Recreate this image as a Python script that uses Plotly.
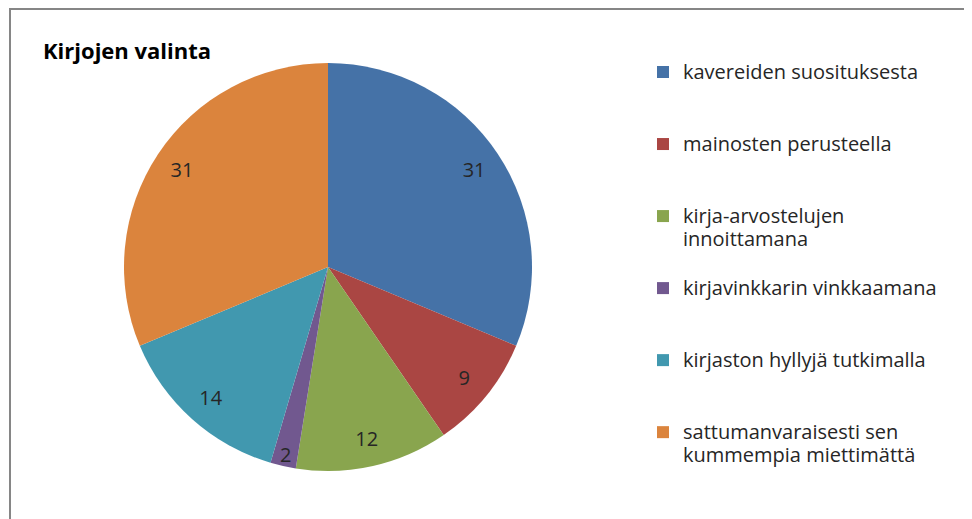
import plotly.graph_objects as go

title_text = "Kirjojen valinta"
categories = [
    "kavereiden suosituksesta",
    "mainosten perusteella",
    "kirja-arvostelujen innoittamana",
    "kirjavinkkarin vinkkaamana",
    "kirjaston hyllyjä tutkimalla",
    "sattumanvaraisesti sen kummempia miettimättä",
]
values = [31, 9, 12, 2, 14, 31]
colors = ["#4572A7", "#AA4643", "#89A54E", "#71588F", "#4198AF", "#DB843D"]

W, H = 964, 511          # page body has an 8px margin
FONT = "Open Sans"
TEXT_COLOR = "#262626"

# legend display text: wrap the two long labels, pad all entries to 3 lines
wrap = {
    "kirja-arvostelujen innoittamana": "kirja-arvostelujen<br>innoittamana",
    "sattumanvaraisesti sen kummempia miettimättä": "sattumanvaraisesti sen<br>kummempia miettimättä",
}
legend_labels = []
for c in categories:
    t = wrap.get(c, c)
    n = t.count("<br>") + 1
    lines = t.split("<br>") + [" "] * (3 - n)
    legend_labels.append("<br>".join('<span style="font-size:20px">%s</span>' % ln for ln in lines))

# pie geometry in pixels
cx, cy, r = 320, 259, 204
dom = dict(x=[(cx - r) / W, (cx + r) / W], y=[1 - (cy + r) / H, 1 - (cy - r) / H])

fig = go.Figure()
fig.add_trace(
    go.Pie(
        labels=legend_labels,
        values=values,
        sort=False,
        direction="clockwise",
        rotation=0,
        marker=dict(colors=colors, line=dict(width=0)),
        textinfo="none",
        domain=dom,
        hoverinfo="skip",
    )
)
# transparent ring carrying the value labels near the rim
fig.add_trace(
    go.Pie(
        labels=categories,
        values=values,
        sort=False,
        direction="clockwise",
        rotation=0,
        hole=0.72,
        marker=dict(colors=["rgba(0,0,0,0)"] * len(values), line=dict(width=0)),
        textinfo="value",
        textposition="inside",
        insidetextorientation="horizontal",
        textfont=dict(family=FONT, size=20, color=TEXT_COLOR),
        domain=dom,
        showlegend=False,
        hoverinfo="label+value",
    )
)

fig.update_layout(
    width=W,
    height=H,
    margin=dict(l=0, r=0, t=0, b=0),
    paper_bgcolor="white",
    font=dict(family=FONT, color=TEXT_COLOR),
    uniformtext=dict(minsize=20, mode="show"),
    legend=dict(
        x=635 / W,
        y=1 - 46 / H,
        xanchor="left",
        yanchor="top",
        valign="top",
        font=dict(family=FONT, size=17.7, color=TEXT_COLOR),
        itemwidth=30,
        bgcolor="rgba(0,0,0,0)",
    ),
    annotations=[
        dict(
            text="<b>" + title_text + "</b>",
            x=33 / W,
            y=1 - 42 / H,
            xref="paper",
            yref="paper",
            xanchor="left",
            yanchor="middle",
            showarrow=False,
            font=dict(family=FONT, size=22, color="#000000"),
        )
    ],
    shapes=[
        dict(type="line", xref="paper", yref="paper", x0=2 / W, x1=1, y0=1 - 1 / H, y1=1 - 1 / H,
             line=dict(color="#868686", width=2)),
        dict(type="line", xref="paper", yref="paper", x0=2 / W, x1=2 / W, y0=0, y1=1,
             line=dict(color="#868686", width=2)),
    ],
)

fig.write_html("out.html")
